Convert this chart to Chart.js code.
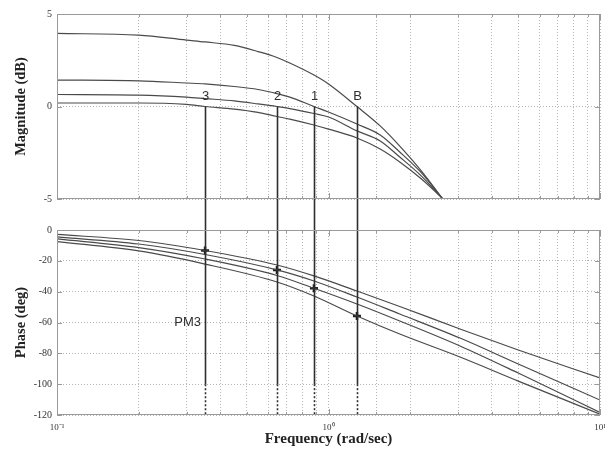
<!DOCTYPE html>
<html>
<head>
<meta charset="utf-8">
<title>Bode plot</title>
<script src="https://cdn.jsdelivr.net/npm/chart.js@4.4.1/dist/chart.umd.min.js"></script>
<style>
  html, body { margin: 0; padding: 0; background: #fff; }
  #wrap { position: relative; width: 605px; height: 451px; }
  #mag-chart { position: absolute; left: 0; top: 0; }
  #phase-chart { position: absolute; left: 0; top: 215px; }
</style>
</head>
<body>
<div id="wrap">
  <canvas id="mag-chart" width="605" height="215"></canvas>
  <canvas id="phase-chart" width="605" height="236"></canvas>
</div>
<script>
// loop names and the frequency where each magnitude curve crosses 0 dB
const curveNames = ['3', '2', '1', 'B'];
const crossFreq = [0.351, 0.646, 0.884, 1.273];

// magnitude (dB)
const magFreq = [0.1, 0.2, 0.3, 0.351, 0.45, 0.55, 0.646, 0.72, 0.884, 1.0, 1.273, 1.55, 1.83, 2.2, 2.62, 3.0];
const mag3 = [0.19, 0.19, 0.11, 0.0, -0.14, -0.32, -0.54, -0.68, -1.0, -1.22, -1.7, -2.3, -3.0, -3.92, -4.95, -5.81];
const mag2 = [0.65, 0.62, 0.51, 0.43, 0.3, 0.14, 0.0, -0.11, -0.38, -0.57, -1.32, -1.86, -2.73, -3.76, -4.95, -5.92];
const mag1 = [1.43, 1.39, 1.27, 1.22, 1.08, 0.92, 0.7, 0.51, 0.0, -0.3, -0.95, -1.54, -2.46, -3.59, -4.95, -6.03];
const magB = [3.95, 3.86, 3.59, 3.49, 3.3, 2.97, 2.65, 2.35, 1.7, 1.22, 0.0, -1.05, -2.14, -3.49, -4.95, -6.14];

// phase (deg)
const phaseFreq = [0.1, 0.2, 0.351, 0.646, 0.884, 1.273, 1.83, 3.05, 5.0, 10];
const phase3 = [-2.9, -6.8, -13.3, -22.7, -29.8, -39.6, -49.6, -64.2, -77.8, -96.0];
const phase2 = [-4.5, -9.1, -15.9, -25.9, -33.1, -43.5, -54.5, -70.1, -86.9, -110.3];
const phase1 = [-5.8, -11.4, -18.8, -29.5, -37.8, -48.0, -59.0, -75.2, -92.8, -118.4];
const phaseB = [-7.5, -13.6, -22.1, -33.7, -42.8, -55.8, -67.5, -82.4, -98.0, -119.4];

const decadeLabels = { '-1': '10\u207B\u00B9', '0': '10\u2070', '1': '10\u00B9' };

const magCurves = [mag3, mag2, mag1, magB];
const phaseCurves = [phase3, phase2, phase1, phaseB];

const lineColor = '#4a4a4a';
const frameColor = '#9a9a9a';
const gridColor = '#b5b5b5';

function toPoints(xs, ys) {
    return xs.map((x, i) => ({ x: x, y: ys[i] }));
}

function curveDataset(xs, ys) {
    return {
        data: toPoints(xs, ys),
        borderColor: lineColor,
        borderWidth: 1.2,
        pointRadius: 0,
        cubicInterpolationMode: 'monotone',
        fill: false
    };
}

function isDecade(v) {
    const l = Math.log10(v);
    return Math.abs(l - Math.round(l)) < 1e-6;
}

function freqAxis(showLabels, height) {
    return {
        type: 'logarithmic',
        min: 0.1,
        max: 10,
        grid: { color: gridColor, lineWidth: 1, drawTicks: false },
        border: { display: false, dash: [1, 2] },
        ticks: {
            display: showLabels,
            autoSkip: false,
            maxRotation: 0,
            padding: 7,
            color: '#333',
            font: { family: 'Liberation Serif', size: 9 },
            callback: function (v) {
                if (!isDecade(v)) return '';
                return decadeLabels[String(Math.round(Math.log10(v)))];
            }
        },
        title: {
            display: showLabels,
            text: 'Frequency (rad/sec)',
            color: '#222',
            font: { family: 'Liberation Serif', size: 15, weight: 'bold' },
            padding: { top: 0, bottom: 3 }
        },
        afterFit: function (scale) {
            scale.height = height;
            scale.paddingLeft = 0;
            scale.paddingRight = 0;
        }
    };
}

function valueAxis(title, min, max, step) {
    return {
        min: min,
        max: max,
        grid: { color: gridColor, lineWidth: 1, drawTicks: false },
        border: { display: false, dash: [1, 2] },
        ticks: {
            stepSize: step,
            padding: 5,
            color: '#333',
            font: { family: 'Liberation Serif', size: 10 }
        },
        title: {
            display: true,
            text: title,
            color: '#222',
            font: { family: 'Liberation Serif', size: 14.5, weight: 'bold' },
            padding: { top: 13, bottom: 0 }
        },
        afterFit: function (scale) {
            scale.width = 57;
        }
    };
}

// box round the plot area with small inward tick marks
const framePlugin = {
    id: 'frame',
    afterDraw(chart) {
        const { ctx, chartArea: a, scales } = chart;
        ctx.save();
        ctx.strokeStyle = frameColor;
        ctx.lineWidth = 1;
        ctx.strokeRect(a.left + 0.5, a.top + 0.5, a.width - 1, a.height - 1);
        ctx.beginPath();
        scales.x.ticks.forEach(t => {
            const px = Math.round(scales.x.getPixelForValue(t.value)) + 0.5;
            const len = isDecade(t.value) ? 6 : 3;
            ctx.moveTo(px, a.top);
            ctx.lineTo(px, a.top + len);
            ctx.moveTo(px, a.bottom);
            ctx.lineTo(px, a.bottom - len);
        });
        scales.y.ticks.forEach(t => {
            const py = Math.round(scales.y.getPixelForValue(t.value)) + 0.5;
            ctx.moveTo(a.left, py);
            ctx.lineTo(a.left + 5, py);
            ctx.moveTo(a.right, py);
            ctx.lineTo(a.right - 5, py);
        });
        ctx.stroke();
        ctx.restore();
    }
};

// vertical markers at each crossover frequency
const crossoverPlugin = {
    id: 'crossover',
    afterDatasetsDraw(chart, args, opts) {
        const { ctx, scales } = chart;
        ctx.save();
        ctx.strokeStyle = '#2e2e2e';
        ctx.lineWidth = 1.6;
        crossFreq.forEach((f, i) => {
            const px = Math.round(scales.x.getPixelForValue(f)) + 0.5;
            if (opts.panel === 'mag') {
                const y0 = scales.y.getPixelForValue(0);
                ctx.setLineDash([]);
                ctx.beginPath();
                ctx.moveTo(px, y0);
                ctx.lineTo(px, chart.height);
                ctx.stroke();
                ctx.fillStyle = '#2e2e2e';
                ctx.font = '13px "Liberation Sans"';
                ctx.textAlign = 'center';
                ctx.textBaseline = 'middle';
                ctx.fillText(curveNames[i], px, y0 - 10);
            } else {
                const ySolid = scales.y.getPixelForValue(-100);
                const yEnd = scales.y.getPixelForValue(-120);
                ctx.setLineDash([]);
                ctx.beginPath();
                ctx.moveTo(px, 0);
                ctx.lineTo(px, ySolid);
                ctx.stroke();
                ctx.setLineDash([2, 2]);
                ctx.beginPath();
                ctx.moveTo(px, ySolid);
                ctx.lineTo(px, yEnd);
                ctx.stroke();
            }
        });
        if (opts.panel === 'phase') {
            ctx.fillStyle = '#2e2e2e';
            ctx.font = '13px "Liberation Sans"';
            ctx.textAlign = 'right';
            ctx.textBaseline = 'middle';
            ctx.fillText('PM3', scales.x.getPixelForValue(crossFreq[0]) - 4, scales.y.getPixelForValue(-60));
        }
        ctx.restore();
    }
};

const magChart = new Chart(document.getElementById('mag-chart'), {
    type: 'line',
    data: {
        datasets: magCurves.map(c => curveDataset(magFreq, c))
    },
    options: {
        responsive: false,
        animation: false,
        devicePixelRatio: 1,
        layout: { autoPadding: false, padding: { top: 14, right: 5, left: 0, bottom: 0 } },
        plugins: {
            legend: { display: false },
            tooltip: { enabled: false },
            crossover: { panel: 'mag' }
        },
        scales: {
            x: freqAxis(false, 16),
            y: valueAxis('Magnitude (dB)', -5, 5, 5)
        }
    },
    plugins: [framePlugin, crossoverPlugin]
});

// phase at each crossover, taken from the matching curve
const pmPoints = crossFreq.map((f, i) => ({ x: f, y: phaseCurves[i][phaseFreq.indexOf(f)] }));

const phaseChart = new Chart(document.getElementById('phase-chart'), {
    type: 'line',
    data: {
        datasets: phaseCurves.map(c => curveDataset(phaseFreq, c)).concat([{
            data: pmPoints,
            showLine: false,
            pointStyle: 'cross',
            pointRadius: 4,
            pointBorderWidth: 2.5,
            pointBorderColor: '#1e1e1e',
            borderColor: '#1e1e1e'
        }])
    },
    options: {
        responsive: false,
        animation: false,
        devicePixelRatio: 1,
        layout: { autoPadding: false, padding: { top: 15, right: 5, left: 0, bottom: 0 } },
        plugins: {
            legend: { display: false },
            tooltip: { enabled: false },
            crossover: { panel: 'phase' }
        },
        scales: {
            x: freqAxis(true, 36),
            y: valueAxis('Phase (deg)', -120, 0, 20)
        }
    },
    plugins: [framePlugin, crossoverPlugin]
});
</script>
</body>
</html>
